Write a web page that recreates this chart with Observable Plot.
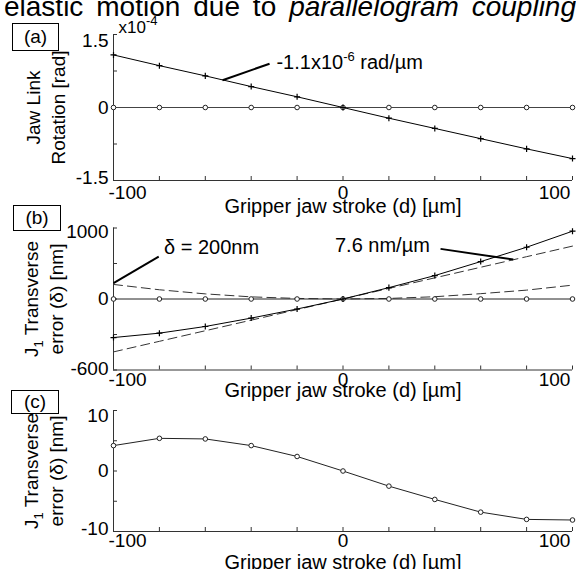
<!DOCTYPE html>
<html><head><meta charset="utf-8">
<script src="https://cdn.jsdelivr.net/npm/d3@7"></script>
<script src="https://cdn.jsdelivr.net/npm/@observablehq/plot@0.6"></script>
<style>
body{margin:0;background:#fff;}
#wrap{position:relative;width:576px;height:569px;overflow:hidden;font-family:"Liberation Sans",Arial,Helvetica,sans-serif;background:#fff;}
.panel{position:absolute;left:0;}
.tag{position:absolute;border:1.5px solid #000;font-size:19px;text-align:center;box-sizing:border-box;color:#000;}
#title{position:absolute;left:4px;width:572px;top:-9px;font-size:28px;line-height:32px;text-align:justify;text-align-last:justify;color:#000;}
</style></head>
<body><div id="wrap">
<div id="title">elastic motion due to <i>parallelogram coupling</i></div>
</div>
<script>
// ---- data ----
const strokeUm = [-100, -80, -60, -40, -20, 0, 20, 40, 60, 80, 100];
// panel (a): jaw link rotation, units of 1e-4 rad
const rotPlus   = [1.08, 0.86, 0.65, 0.43, 0.22, 0, -0.22, -0.43, -0.64, -0.85, -1.05];
const rotCircle = [0, 0, 0, 0, 0, 0, 0, 0, 0, 0, 0];
// panel (b): J1 transverse error, nm
const errPlus   = [-543, -481, -387, -269, -141, 0, 160, 330, 527, 729, 955];
const errLinear = [-745, -596, -447, -298, -149, 0, 149, 298, 447, 596, 745];
const errParab  = [205, 130, 72, 30, 8, 0, 8, 32, 75, 125, 195];
const errCircle = [0, 0, 0, 0, 0, 0, 0, 0, 0, 0, 0];
// panel (c): J1 transverse error, nm
const errC = [4.2, 5.4, 5.3, 4.2, 2.4, 0, -2.5, -4.7, -6.8, -8.0, -8.1];

// ticks
const xTickVals = [-100, 0, 100];
const xTickLabels = ["-100", "0", "100"];
const yTicksA = [1.5, 0, -1.5], yLabelsA = ["1.5", "0", "-1.5"], yMinorA = [1.5, 0.75, 0, -0.75, -1.5];
const yTicksB = [1000, 0, -1000], yLabelsB = ["1000", "0", "-600"], yMinorB = [1000, 500, 0, -500, -1000];
const yTicksC = [10, 0, -10], yLabelsC = ["10", "0", "-10"], yMinorC = [10, 5, 0, -5, -10];

// annotations
const annA = {text: ["-1.1x10^-6 rad/µm"], x: [-29], y: [0.93]};
const leadA = {x1: [-32], y1: [0.90], x2: [-52.5], y2: [0.56]};
const annB1 = {text: ["δ = 200nm"], x: [-78], y: [725]};
const leadB1 = {x1: [-80.3], y1: [597], x2: [-100], y2: [225]};
const annB2 = {text: ["7.6 nm/µm"], x: [-3.5], y: [753]};
const leadB2 = {x1: [42.5], y1: [706], x2: [74.2], y2: [555]};

const xLabel = "Gripper jaw stroke (d) [µm]";

// ---- drawing ----
const W = 576, ML = 113, MR = 4;
const FONT = '"Liberation Sans", Arial, Helvetica, sans-serif';
const AX = "#333", LN = "#222";
const wrap = document.getElementById("wrap");

function supify(svg) {
  const ns = "http://www.w3.org/2000/svg";
  svg.querySelectorAll("text, tspan").forEach(el => {
    if (el.childElementCount) return;
    const s = el.textContent;
    const m = s.match(/^(.*?)([\^_])(-?\d+)(.*)$/);
    if (!m) return;
    const shift = m[2] === "^" ? -8 : 5;
    el.textContent = "";
    const a = document.createElementNS(ns, "tspan"); a.textContent = m[1];
    const b = document.createElementNS(ns, "tspan"); b.textContent = m[3];
    b.setAttribute("dy", shift); b.setAttribute("font-size", "13px");
    el.append(a, b);
    if (m[4]) {
      const c = document.createElementNS(ns, "tspan"); c.textContent = m[4];
      c.setAttribute("dy", -shift);
      el.append(c);
    }
  });
}

function panel(o) {
  const ph = o.height - o.mt - o.mb, pw = W - ML - MR;
  const yAxes = o.yTicks.map((v, i) => Plot.axisY([v], {
    anchor: "left", tickSize: 0, tickPadding: 5, dy: o.yDy[i], label: null,
    tickFormat: () => o.yLabels[i], fill: "#000"
  }));
  const xAxes = xTickVals.map((v, i) => Plot.axisX([v], {
    anchor: "bottom", tickSize: 0, tickPadding: o.xPad, dx: [14, 0, -18][i], label: null,
    tickFormat: () => xTickLabels[i], fill: "#000"
  }));
  const p = Plot.plot({
    width: W, height: o.height, marginLeft: ML, marginRight: MR, marginTop: o.mt, marginBottom: o.mb,
    style: {fontFamily: FONT, fontSize: "19px", color: "#000", background: "transparent", overflow: "visible"},
    x: {domain: [-100, 100]},
    y: {domain: o.yDomain},
    marks: [
      Plot.ruleX([-100], {stroke: AX, strokeWidth: 1}),
      Plot.ruleY([o.yDomain[0]], {stroke: AX, strokeWidth: 1}),
      Plot.tickX(strokeUm, {x: d => d, insetTop: ph - 4, stroke: AX}),
      Plot.tickY(o.yMinor, {y: d => d, insetRight: pw - 4, stroke: AX}),
      ...o.marks,
      ...yAxes, ...xAxes,
      Plot.text([xLabel], {text: d => d, frameAnchor: "bottom", dy: o.xLabelDy, fontSize: 20, lineAnchor: "middle", fill: "#000"}),
      Plot.text([o.yLabel], {text: d => d, frameAnchor: "left", dx: o.yLabelDx, rotate: -90, fontSize: 19,
        lineHeight: 1.3, textAnchor: "middle", lineAnchor: "middle", fill: "#000"}),
      ...(o.extra || [])
    ]
  });
  supify(p);
  p.classList.add("panel");
  p.style.position = "absolute";
  p.style.top = o.top + "px";
  p.style.left = "0px";
  wrap.appendChild(p);
}

function series(ys, opts) {
  return Plot.line(strokeUm, {x: strokeUm, y: ys, stroke: LN, strokeWidth: 1, ...opts});
}
function circles(ys) {
  return Plot.dot(strokeUm, {x: strokeUm, y: ys, r: 2.3, stroke: LN, fill: "#fff", strokeWidth: 1});
}
function pluses(ys) {
  return Plot.dot(strokeUm, {x: strokeUm, y: ys, symbol: "plus", r: 2.1, stroke: "#000", strokeWidth: 1.2});
}
function ann(a, l) {
  return [
    Plot.link([0], {x1: l.x1, y1: l.y1, x2: l.x2, y2: l.y2, stroke: "#000", strokeWidth: 2}),
    Plot.text([0], {x: a.x, y: a.y, text: a.text, textAnchor: "start", lineAnchor: "middle", fontSize: 20, fill: "#000"})
  ];
}

// (a)
panel({
  top: 0, height: 215, mt: 34, mb: 35,
  yDomain: [-1.5, 1.5], yTicks: yTicksA, yLabels: yLabelsA, yMinor: yMinorA, yDy: [6, 0, -3],
  xPad: 5, xLabelDy: 26, yLabel: "Jaw Link\nRotation [rad]", yLabelDx: -69,
  marks: [
    series(rotCircle, {stroke: "#444"}), circles(rotCircle),
    series(rotPlus, {stroke: "#000"}), pluses(rotPlus),
    ...ann(annA, leadA)
  ],
  extra: [Plot.text(["x10^-4"], {text: d => d, frameAnchor: "top-left", dx: 5, dy: -7, fontSize: 17, textAnchor: "start", lineAnchor: "middle", fill: "#000"})]
});

// (b)
panel({
  top: 215, height: 190, mt: 12.5, mb: 35.5,
  yDomain: [-1000, 1000], yTicks: yTicksB, yLabels: yLabelsB, yMinor: yMinorB, yDy: [4, 0, -1],
  xPad: 2, xLabelDy: 21, yLabel: "J_1 Transverse\nerror (δ) [nm]", yLabelDx: -71,
  marks: [
    series(errLinear, {stroke: "#333", strokeDasharray: "9,5"}),
    series(errParab, {stroke: "#333", strokeDasharray: "9,5"}),
    series(errCircle), circles(errCircle),
    series(errPlus, {stroke: "#000"}), pluses(errPlus),
    ...ann(annB1, leadB1), ...ann(annB2, leadB2)
  ]
});

// (c)
panel({
  top: 405, height: 164, mt: 5, mb: 38,
  yDomain: [-10, 10], yTicks: yTicksC, yLabels: yLabelsC, yMinor: yMinorC, yDy: [5, 0, -3],
  xPad: 2, xLabelDy: 31, yLabel: "J_1 Transverse\nerror (δ) [nm]", yLabelDx: -71,
  marks: [series(errC), circles(errC)]
});

// panel tags
[["(a)", 12, 23, 47, 28], ["(b)", 13, 205, 48, 26], ["(c)", 11, 390, 48, 24]].forEach(([t, l, tp, w, h]) => {
  const d = document.createElement("div");
  d.className = "tag";
  d.textContent = t;
  Object.assign(d.style, {left: l + "px", top: tp + "px", width: w + "px", height: h + "px", lineHeight: (h - 3) + "px"});
  wrap.appendChild(d);
});
</script>
</body></html>
